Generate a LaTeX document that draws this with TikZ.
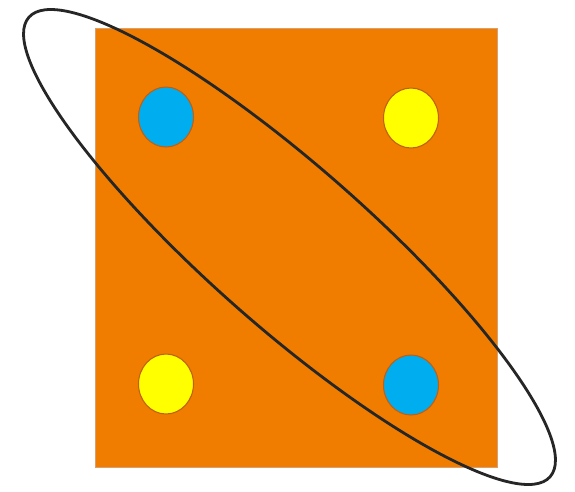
\documentclass[tikz,border=0pt]{standalone}
\usetikzlibrary{shapes.geometric}

\definecolor{boardorange}{RGB}{240,125,0}
\definecolor{dotblue}{RGB}{0,174,239}
\definecolor{dotyellow}{RGB}{255,255,0}
\definecolor{dotrim}{RGB}{190,95,20}

\begin{document}
\begin{tikzpicture}[
    x=0.02cm, y=-0.02cm,
    board/.style={rectangle, draw=dotrim!60, fill=boardorange, line width=0.4pt,
                minimum width=8.04cm, minimum height=8.78cm, inner sep=0pt},
    dot/.style={ellipse, draw=dotrim, line width=0.6pt,
                minimum width=1.1cm, minimum height=1.2cm, inner sep=0pt},
    ring/.style={ellipse, draw=black!85, line width=1.6pt, rotate=-41.4,
                minimum width=13.9cm, minimum height=3.2cm, inner sep=0pt}
]
    \useasboundingbox (0,0) rectangle (575,491);
    \node[board] (board) at (296,247.5) {};

    \node[dot, fill=dotblue] (blueA) at (166,117) {};
    \node[dot, fill=dotyellow] (yellowA) at (411,118) {};
    \node[dot, fill=dotyellow] (yellowB) at (166,384) {};
    \node[dot, fill=dotblue] (blueB) at (411,385) {};

    \node[ring] (pair) at (289.5,247) {};
\end{tikzpicture}
\end{document}
